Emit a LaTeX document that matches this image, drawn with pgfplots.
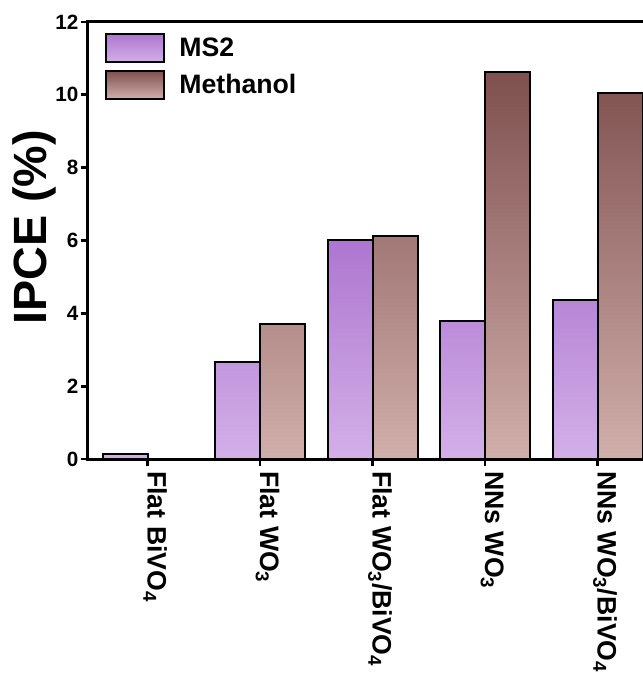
\documentclass[border=0pt]{standalone}
\usepackage{fontspec}
\setmainfont{Liberation Sans}
\usepackage{pgfplots}
\pgfplotsset{compat=1.18}
\definecolor{msTop}{HTML}{AE76D0}
\definecolor{msMid}{HTML}{C39BDC}
\definecolor{msBot}{HTML}{D3B0E8}
\definecolor{meTop}{HTML}{7E504E}
\definecolor{meMid}{HTML}{B3908B}
\definecolor{meBot}{HTML}{D1AFAB}
\begin{document}
\begin{tikzpicture}
\begin{axis}[
  scale only axis,
  width=432.8pt, height=327.75pt,
  xmin=-0.53, xmax=4.6,
  ymin=0, ymax=12,
  ytick={0,2,...,12},
  minor y tick num=1,
  xtick={0,1,2,3,4},
  xticklabels={Flat BiVO\textsubscript{4},Flat WO\textsubscript{3},Flat WO\textsubscript{3}/BiVO\textsubscript{4},NNs WO\textsubscript{3},NNs WO\textsubscript{3}/BiVO\textsubscript{4}},
  xtick pos=bottom, ytick pos=left,
  tick align=outside,
  major tick length=5.5pt, minor tick length=1.8pt,
  every tick/.style={line width=2pt, black},
  axis line style={line width=2.25pt},
  axis on top,
  /pgf/number format/assume math mode=true,
  yticklabel style={font=\fontsize{15.5}{18}\selectfont\bfseries, inner sep=1.5pt},
  xticklabel style={font=\fontsize{20}{24}\selectfont\bfseries, rotate=-90, anchor=base west, inner sep=2pt, xshift=1.5pt},
  ylabel={IPCE (\%)},
  ylabel style={font=\fontsize{35}{42}\selectfont\bfseries, at={(axis description cs:-0.092,0.53)}, anchor=center},
  legend style={at={(axis description cs:0.0296,0.975)}, anchor=north west, draw=none, fill=none, inner sep=0pt,
    font=\fontsize{20}{24}\selectfont\bfseries, row sep=5pt, nodes={inner sep=0pt}},
  legend cell align=left,
  legend image code/.code={\draw[#1,line width=1.5pt] (0pt,-10.5pt) rectangle (43.5pt,10.5pt); \path (54pt,0pt);},
]
\addplot[ybar, bar width=0.4, bar shift=-0.2, draw=black, line width=1.5pt, top color=msTop, middle color=msMid, bottom color=msBot]
  coordinates {(0,0.13) (1,2.67) (2,6.01) (3,3.80) (4,4.36)};
\addlegendentry{MS2}
\addplot[ybar, bar width=0.4, bar shift=0.2, draw=black, line width=1.5pt, top color=meTop, middle color=meMid, bottom color=meBot]
  coordinates {(1,3.72) (2,6.13) (3,10.62) (4,10.05)};
\addlegendentry{Methanol}
\end{axis}
\pgfresetboundingbox
\path[use as bounding box] (-66pt,-161.25pt) rectangle (415.5pt,344.25pt);
\end{tikzpicture}
\end{document}
